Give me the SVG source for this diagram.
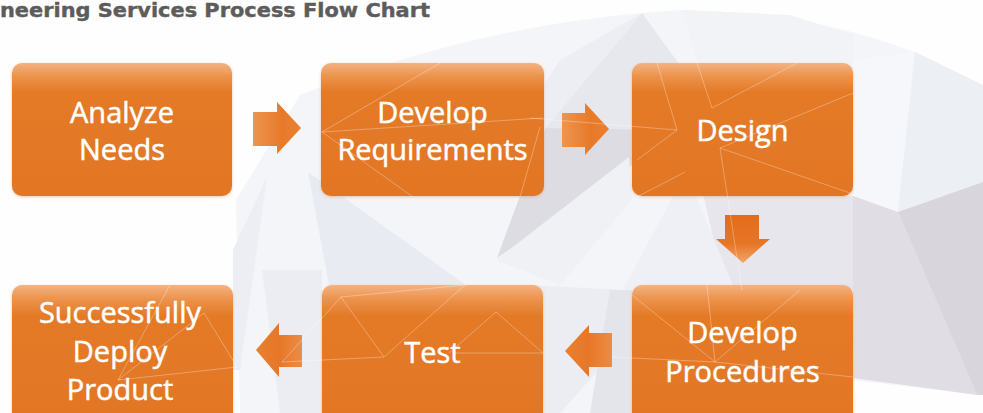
<svg xmlns="http://www.w3.org/2000/svg" width="983" height="413" viewBox="0 0 983 413">
<defs>
<linearGradient id="boxGrad" x1="0" y1="0" x2="0" y2="1">
<stop offset="0" stop-color="#F3B383"/>
<stop offset="0.1" stop-color="#EC934C"/>
<stop offset="0.22" stop-color="#E47A27"/>
<stop offset="1" stop-color="#E27624"/>
</linearGradient>
<linearGradient id="arrR" x1="0" y1="0" x2="1" y2="0">
<stop offset="0" stop-color="#EE9550"/>
<stop offset="0.6" stop-color="#E77A2A"/>
<stop offset="1" stop-color="#E9802F"/>
</linearGradient>
<linearGradient id="arrL" x1="1" y1="0" x2="0" y2="0">
<stop offset="0" stop-color="#EC8C45"/>
<stop offset="0.5" stop-color="#E77728"/>
<stop offset="1" stop-color="#E9802F"/>
</linearGradient>
<linearGradient id="arrD" x1="0" y1="0" x2="0" y2="1">
<stop offset="0" stop-color="#E46B1C"/>
<stop offset="0.6" stop-color="#E67626"/>
<stop offset="1" stop-color="#F2A56A"/>
</linearGradient>
<filter id="glow" x="-10%" y="-10%" width="120%" height="120%">
<feDropShadow dx="0" dy="1" stdDeviation="1.6" flood-color="#E89A60" flood-opacity="0.55"/>
</filter>
</defs>
<style>
.box{fill:url(#boxGrad);filter:url(#glow)}
.lbl{font-family:"Open Sans","Liberation Sans",sans-serif;font-size:29px;fill:#FFFFFF;stroke:#FFFFFF;stroke-width:0.5;text-anchor:middle}
.title{font-family:"DejaVu Sans","Liberation Sans",sans-serif;font-weight:bold;font-size:19px;fill:#5C5C5C;stroke:#5C5C5C;stroke-width:0.4}
.ov{stroke:#FFFFFF;stroke-width:0.8;stroke-opacity:0.38;fill:none}
</style>
<rect width="983" height="413" fill="#FEFEFE"/>
<g id="background">
<path d="M300 95 Q470 28 642 13 L682 10 Q790 12 880 40 L915 52 L983 85 L983 395 L850 380 L700 413 L240 413 L236 200 Z" fill="#F4F5F8"/>
<polygon points="642,13 711,108 675,130 545,128" fill="#E7E8EE"/>
<polygon points="545,128 675,130 632,165 497,258" fill="#DEDCE3"/>
<polygon points="642,13 545,128 500,150 560,60" fill="#EDEEF3"/>
<polygon points="682,10 711,108 853,63 853,35 790,15" fill="#F1F3F7"/>
<polygon points="853,60 915,52 898,212 853,196" fill="#F6F7FA"/>
<polygon points="915,52 983,85 983,182 898,212" fill="#ECEFF4"/>
<polygon points="853,196 898,212 977,395 853,378" fill="#E0DEE4"/>
<polygon points="898,212 983,182 983,395 977,395" fill="#D8D5DC"/>
<polygon points="700,180 853,196 853,290 725,290" fill="#E6E6EC"/>
<polygon points="686,172 623,290 714,413 735,290" fill="#EEF0F5"/>
<polygon points="308,172 470,288 330,290" fill="#E8EBF1"/>
<polygon points="267,177 240,370 233,370 233,250" fill="#ECEEF3"/>
<polygon points="262,270 322,270 322,413 280,413" fill="#EBEDF2"/>
<polygon points="527,285 624,290 610,357 560,413 544,413" fill="#EBEDF2"/>
<polygon points="610,290 632,290 632,413 590,413" fill="#E4E4EB"/>
<polygon points="496,260 629,157 632,200 560,285" fill="#EFF1F5"/>
</g>
<g id="connectors">
<polygon id="arrow-1" points="253,112 277,112 277,102 301,128 277,154 277,146 253,146" fill="url(#arrR)"/>
<polygon id="arrow-2" points="562,113 585,113 585,103 609,129 585,155 585,147 562,147" fill="url(#arrR)"/>
<polygon id="arrow-3" points="725,215 759,215 759,239 770,239 743,263 716,239 725,239" fill="url(#arrD)"/>
<polygon id="arrow-4" points="612,333 589,333 589,325 565,351 589,377 589,367 612,367" fill="url(#arrL)"/>
<polygon id="arrow-5" points="302,335 279,335 279,323 256,350 279,377 279,367 302,367" fill="url(#arrL)"/>
</g>
<g id="node-analyze-needs">
<rect class="box" x="12" y="63" width="220" height="133" rx="10"/>
<text class="lbl" x="122" y="123">Analyze</text>
<text class="lbl" x="122" y="160">Needs</text>
</g>
<g id="node-develop-requirements">
<rect class="box" x="321" y="63" width="223" height="133" rx="10"/>
<text class="lbl" x="432.5" y="123">Develop</text>
<text class="lbl" x="432.5" y="160">Requirements</text>
</g>
<g id="node-design">
<rect class="box" x="632" y="63" width="221" height="133" rx="10"/>
<text class="lbl" x="742.5" y="141">Design</text>
</g>
<g id="node-develop-procedures">
<rect class="box" x="632" y="285" width="221" height="140" rx="10"/>
<text class="lbl" x="742.5" y="343">Develop</text>
<text class="lbl" x="742.5" y="382">Procedures</text>
</g>
<g id="node-test">
<rect class="box" x="322" y="285" width="221" height="140" rx="10"/>
<text class="lbl" x="432.5" y="363">Test</text>
</g>
<g id="node-deploy">
<rect class="box" x="12" y="285" width="221" height="140" rx="10"/>
<text class="lbl" x="120" y="323">Successfully</text>
<text class="lbl" x="120" y="362">Deploy</text>
<text class="lbl" x="120" y="400">Product</text>
</g>
<g id="overlay-lines" class="ov">
<path d="M530 118 L677 130 L657 63 M677 130 L637 160 M697 63 L712 108 L797 63 M720 148 L853 93 M720 148 L850 193 M720 148 L742 290 M685 172 L637 197"/>
<path d="M322 132 L543 118 M322 132 L440 63 M322 132 L413 197 M540 127 L520 197"/>
<path d="M341 297 L465 285 M341 297 L384 357 L465 285 M496 312 L543 353 M496 312 L449 353 M453 353 L543 353 M282 362 L384 357 M282 362 L341 297"/>
<path d="M237 367 L118 380 M204 313 L237 367 M118 380 L204 313 M171 283 L118 380"/>
<path d="M632 295 L715 362 L707 285 M612 357 L715 362 L853 377 M715 362 L800 290"/>
</g>
<text class="title" x="0" y="17" textLength="430" lengthAdjust="spacingAndGlyphs">neering Services Process Flow Chart</text>
</svg>
